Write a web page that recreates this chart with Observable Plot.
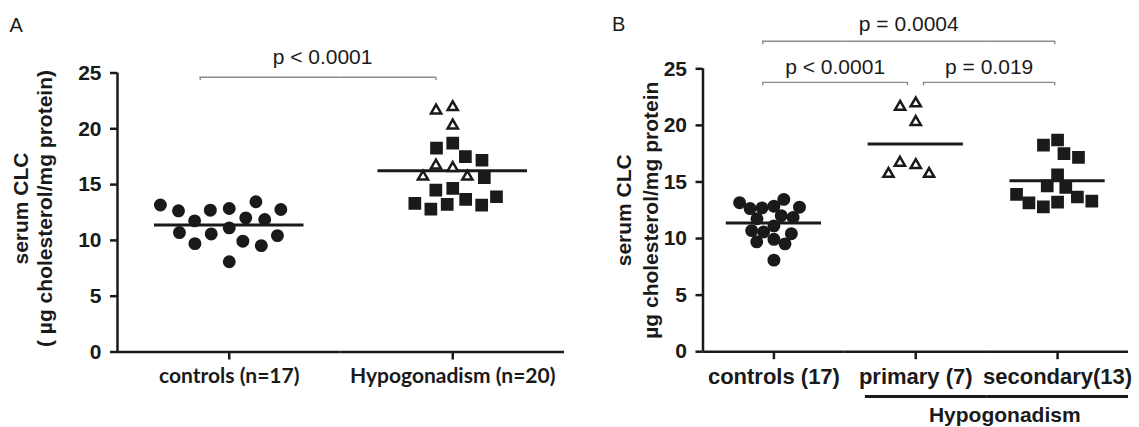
<!DOCTYPE html>
<html><head><meta charset="utf-8">
<script src="https://cdn.jsdelivr.net/npm/d3@7"></script>
<script src="https://cdn.jsdelivr.net/npm/@observablehq/plot@0.6"></script>
<style>
html,body{margin:0;padding:0;background:#fff;}
#wrap{display:flex;width:1139px;height:427px;overflow:hidden;}
#wrap svg{display:block;flex:none;}
</style></head><body><div id="wrap"></div>
<script>
// ---- data ----
const controls = [12.86, 12.71, 12.02, 11.12, 10.58, 11.75, 13.46, 11.87, 9.93, 9.53, 9.71, 8.09, 12.65, 12.77, 13.17, 10.43, 10.70];
const primary = [21.94, 21.64, 20.30, 16.49, 16.70, 15.71, 15.71];
const secondary = [18.71, 18.26, 17.51, 17.18, 15.62, 14.66, 14.51, 13.67, 13.22, 12.80, 13.16, 13.31, 13.91];
const groupsA = ["controls (n=17)", "Hypogonadism (n=20)"];
const groupsB = ["controls (17)", "primary (7)", "secondary(13)"];
const yTicks = [0, 5, 10, 15, 20, 25];
const titleA = "serum CLC\n( µg cholesterol/mg protein)";
const titleB = "serum CLC\nµg cholesterol/mg protein";
const bracketsA = [
  {from: groupsA[0], fromOff: -0.26, to: groupsA[1], toOff: -0.15, y: 24.62, label: "p < 0.0001", labelY: 26.4, labelShift: 0.04}
];
const bracketsB = [
  {from: groupsB[0], fromOff: -0.157, to: groupsB[2], toOff: -0.04, y: 27.43, label: "p = 0.0004", labelY: 28.95},
  {from: groupsB[0], fromOff: -0.157, to: groupsB[1], toOff: -0.116, y: 23.8, label: "p < 0.0001", labelY: 25.15},
  {from: groupsB[1], fromOff: 0.11, to: groupsB[2], toOff: -0.04, y: 23.8, label: "p = 0.019", labelY: 25.15}
];
const superGroupB = {from: groupsB[1], fromOff: -0.71, to: groupsB[2], toOff: 1.0, y: -3.95, label: "Hypogonadism", labelY: -5.6, labelShift: 0.11};

// ---- helpers ----
const ink = "#1a1a1a";
const sans = "'Liberation Sans', Arial, Helvetica, sans-serif";
function segments(groups, b) {
  const i0 = groups.indexOf(b.from), i1 = groups.indexOf(b.to), out = [];
  for (let i = i0; i <= i1; ++i) out.push({fx: groups[i], x1: i === i0 ? b.fromOff : -1, x2: i === i1 ? b.toOff : 1, y: b.y});
  return out;
}
function ends(b) {
  return [{fx: b.from, x: b.fromOff, y: b.y}, {fx: b.to, x: b.toOff, y: b.y}];
}
function labelOf(groups, b) {
  const g = (2 * groups.indexOf(b.from) + b.fromOff + 2 * groups.indexOf(b.to) + b.toOff) / 2 + (b.labelShift || 0);
  const i = Math.min(groups.length - 1, Math.max(0, Math.floor((g + 1) / 2)));
  return {fx: groups[i], x: g - 2 * i, y: b.labelY, text: b.label};
}
// symbols drawn a little smaller than their collision radius
const disc = {draw(c, size) { const r = Math.sqrt(size / Math.PI) * 0.87; c.moveTo(r, 0); c.arc(0, 0, r, 0, 2 * Math.PI); }};
const box = {draw(c, size) { const h = Math.sqrt(size / Math.PI) * 0.85; c.rect(-h, -h, 2 * h, 2 * h); }};
const tri = {draw(c, size) {
  const s = Math.sqrt(size / Math.PI) * 1.7, hgt = s * Math.sqrt(3) / 2;
  c.moveTo(0, -2 * hgt / 3); c.lineTo(s / 2, hgt / 3); c.lineTo(-s / 2, hgt / 3); c.closePath();
}};

function panel(cfg) {
  const {groups, points, brackets, width, margins, title, letter, meanInset} = cfg;
  const first = groups[0];
  const marks = [
    Plot.ruleY([0], {stroke: ink, strokeWidth: 2.5}),
    Plot.ruleX([-1], {fx: [first], y1: 0, y2: 25, stroke: ink, strokeWidth: 2.5}),
    Plot.axisY({ticks: yTicks, tickSize: 7, tickPadding: 9, strokeWidth: 2.5, stroke: ink, fill: ink,
      fontSize: 21, fontWeight: "bold", fontFamily: sans, label: null, facetAnchor: "left"}),
    Plot.axisFx({anchor: "bottom", tickSize: 8, tickPadding: cfg.xPad, strokeWidth: 2.5, stroke: ink, fill: ink,
      fontSize: cfg.xFontSize, fontWeight: "bold", fontFamily: cfg.xFont, label: null}),
    Plot.ruleY(brackets.flatMap(b => segments(groups, b)), {fx: "fx", x1: "x1", x2: "x2", y: "y", stroke: "#8a8a8a", strokeWidth: 1.4}),
    Plot.ruleX(brackets.flatMap(ends), {fx: "fx", x: "x", y1: "y", y2: d => d.y - 0.3, stroke: "#8a8a8a", strokeWidth: 1.4}),
    Plot.text(brackets.map(b => labelOf(groups, b)), {fx: "fx", x: "x", y: "y", text: "text", fontSize: 21, fontFamily: sans, fill: ink, lineAnchor: "middle"}),
    Plot.ruleY(points, Plot.groupZ({y: "mean"}, {y: "value", fx: "group", stroke: ink, strokeWidth: 3, insetLeft: meanInset, insetRight: meanInset}))
  ];
  for (const [kinds, padding] of cfg.dotGroups) {
    marks.push(Plot.dot(points.filter(d => kinds.includes(d.kind)), Plot.dodgeX({anchor: "middle", padding}, {
      y: "value", fx: "group", r: 6, symbol: "kind", fill: "kind", stroke: ink, strokeWidth: 2.5
    })));
  }
  marks.push(
    Plot.text([letter], {fx: [first], frameAnchor: "top-left", dx: cfg.letterDx, dy: cfg.letterDy, textAnchor: "start", lineAnchor: "middle",
      fontSize: 20, fontFamily: sans, fill: ink}),
    Plot.text([title], {fx: [first], frameAnchor: "left", rotate: -90, dx: cfg.titleDx, dy: cfg.titleDy, textAnchor: "middle", lineAnchor: "middle",
      lineHeight: cfg.titleLH, fontSize: 21, fontWeight: "bold", fontFamily: sans, fill: ink})
  );
  if (cfg.superGroup) {
    const sg = cfg.superGroup;
    marks.push(Plot.ruleY(segments(groups, sg), {fx: "fx", x1: "x1", x2: "x2", y: "y", stroke: ink, strokeWidth: 3}));
    marks.push(Plot.text([labelOf(groups, sg)], {fx: "fx", x: "x", y: "y", text: "text", fontSize: 21, fontWeight: "bold", fontFamily: sans, fill: ink, lineAnchor: "middle"}));
  }
  return Plot.plot({
    width, height: 427,
    marginLeft: margins[3], marginRight: margins[1], marginTop: margins[0], marginBottom: margins[2],
    style: {fontFamily: sans, color: ink, background: "white", overflow: "visible"},
    fx: {domain: groups, padding: 0, round: false, axis: null, label: null},
    x: {domain: [-1, 1], axis: null},
    y: {domain: [0, 25], axis: null},
    symbol: {domain: ["controls", "primary", "secondary"], range: [disc, tri, box]},
    color: {domain: ["controls", "primary", "secondary"], range: [ink, "white", ink]},
    marks
  });
}

const pointsA = [
  ...controls.map(value => ({group: groupsA[0], kind: "controls", value})),
  ...primary.map(value => ({group: groupsA[1], kind: "primary", value})),
  ...secondary.map(value => ({group: groupsA[1], kind: "secondary", value}))
];
const pointsB = [
  ...controls.map(value => ({group: groupsB[0], kind: "controls", value})),
  ...primary.map(value => ({group: groupsB[1], kind: "primary", value})),
  ...secondary.map(value => ({group: groupsB[2], kind: "secondary", value}))
];

const wrap = document.getElementById("wrap");
wrap.append(panel({
  groups: groupsA, points: pointsA, brackets: bracketsA, width: 570, margins: [72.5, 6, 75.5, 117],
  title: titleA, letter: "A", meanInset: 37, xPad: 8.5, xFont: "Lato, 'Open Sans', sans-serif", xFontSize: 21,
  dotGroups: [[["controls"], 7], [["primary", "secondary"], 5]],
  letterDx: -108, letterDy: -47, titleDx: -85, titleDy: -4, titleLH: 1.15
}));
wrap.append(panel({
  groups: groupsB, points: pointsB, brackets: bracketsB, width: 569, margins: [68.3, 11, 75.8, 132.5],
  title: titleB, letter: "B", meanInset: 23.3, xPad: 9, xFont: sans, xFontSize: 22,
  dotGroups: [[["controls"], 0], [["primary"], 4], [["secondary"], 3]],
  letterDx: -91, letterDy: -44, titleDx: -67, titleDy: 0, titleLH: 1.26, superGroup: superGroupB
}));
</script></body></html>
